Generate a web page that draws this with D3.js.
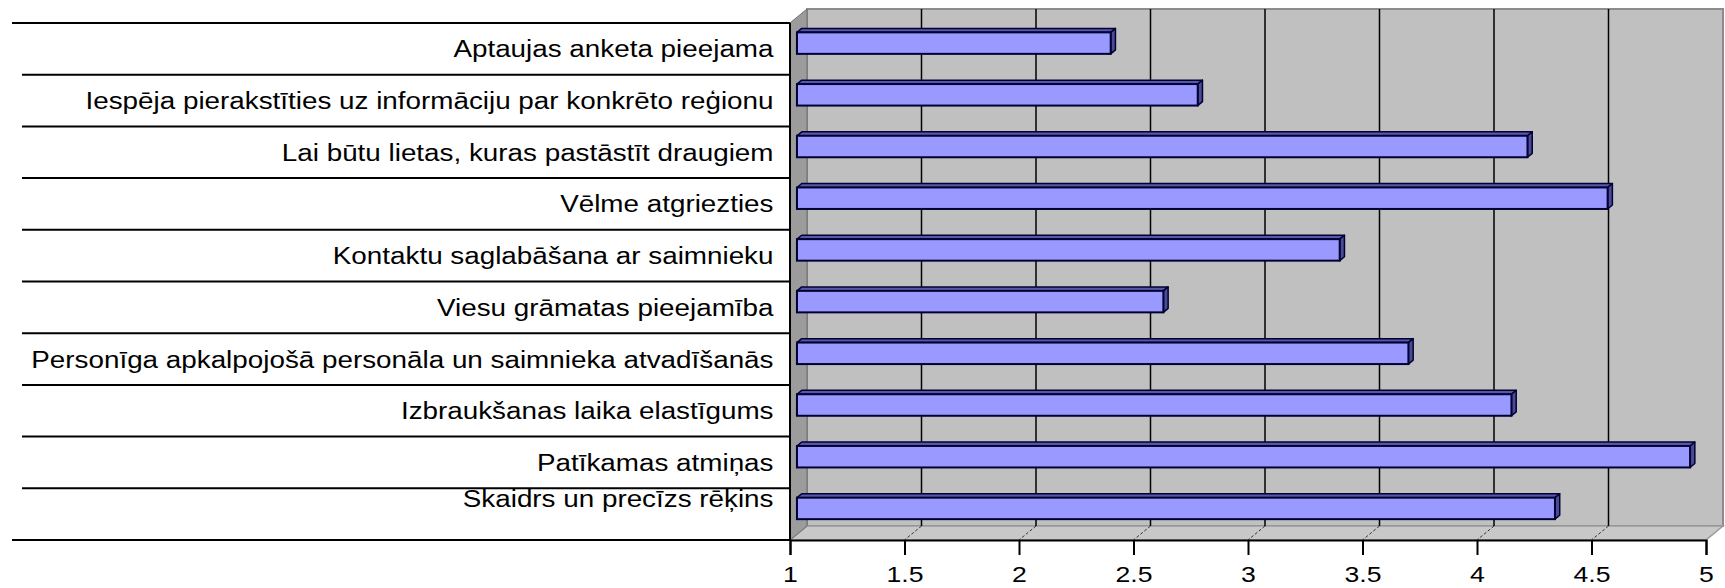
<!DOCTYPE html>
<html>
<head>
<meta charset="utf-8">
<script src="https://cdn.jsdelivr.net/npm/d3@7"></script>
<style>
  html, body { margin: 0; padding: 0; background: #ffffff; }
  svg { display: block; }
  text { font-family: "Liberation Sans", Arial, sans-serif; fill: #000; }
</style>
</head>
<body>
<svg id="chart" width="1725" height="588"></svg>
<script>
// ---- data ----
const categories = [
  "Aptaujas anketa pieejama",
  "Iespēja pierakstīties uz informāciju par konkrēto reģionu",
  "Lai būtu lietas, kuras pastāstīt draugiem",
  "Vēlme atgriezties",
  "Kontaktu saglabāšana ar saimnieku",
  "Viesu grāmatas pieejamība",
  "Personīga apkalpojošā personāla un saimnieka atvadīšanās",
  "Izbraukšanas laika elastīgums",
  "Patīkamas atmiņas",
  "Skaidrs un precīzs rēķins"
];
const values = [2.37, 2.75, 4.19, 4.54, 3.37, 2.60, 3.67, 4.12, 4.90, 4.31];
const tickValues = [1, 1.5, 2, 2.5, 3, 3.5, 4, 4.5, 5];
const tickLabels = ["1", "1.5", "2", "2.5", "3", "3.5", "4", "4.5", "5"];
const gridValues = [1.5, 2, 2.5, 3, 3.5, 4, 4.5];

// ---- layout ----
const svg = d3.select("#chart");
const frontLeft = 790, frontRight = 1706, frontTop = 23, frontBottom = 540;
const DX = 17, DY = -14;          // depth offset of the back wall
const barF0 = 0.41, barF1 = 0.69;  // depth range occupied by the bars
const labelRight = 773.5;
const stretch = 1.21;

const x = d3.scaleLinear().domain([1, 5]).range([frontLeft, frontRight]);
const y = d3.scaleBand().domain(categories).range([frontTop, frontBottom]).paddingInner(0).paddingOuter(0);
const bw = y.bandwidth();
const barH = bw * 0.416;

// back wall
svg.append("rect")
  .attr("x", frontLeft + DX).attr("y", frontTop + DY)
  .attr("width", frontRight - frontLeft).attr("height", frontBottom - frontTop)
  .attr("fill", "#c0c0c0").attr("stroke", "#8c8c8c").attr("stroke-width", 2);

// floor
svg.append("polygon")
  .attr("points", [
    [frontLeft, frontBottom], [frontLeft + DX, frontBottom + DY],
    [frontRight + DX, frontBottom + DY], [frontRight, frontBottom]
  ].map(p => p.join(",")).join(" "))
  .attr("fill", "#c8c8c8").attr("stroke", "#9a9a9a").attr("stroke-width", 1.5);

// left side wall
svg.append("polygon")
  .attr("points", [
    [frontLeft, frontTop], [frontLeft + DX, frontTop + DY],
    [frontLeft + DX, frontBottom + DY], [frontLeft, frontBottom]
  ].map(p => p.join(",")).join(" "))
  .attr("fill", "#9c9c9c").attr("stroke", "#6e6e6e").attr("stroke-width", 1);

// gridlines on back wall
svg.append("g").selectAll("line").data(gridValues).join("line")
  .attr("x1", d => x(d) + DX).attr("x2", d => x(d) + DX)
  .attr("y1", frontTop + DY).attr("y2", frontBottom + DY)
  .attr("stroke", "#000").attr("stroke-width", 1.5);

// gridlines on floor
svg.append("g").selectAll("line").data(gridValues).join("line")
  .attr("x1", d => x(d) + DX).attr("y1", frontBottom + DY)
  .attr("x2", d => x(d)).attr("y2", frontBottom)
  .attr("stroke", "#333").attr("stroke-width", 1).attr("stroke-dasharray", "3,2");

// bars (3D)
const bars = svg.append("g").selectAll("g").data(categories.map((c, i) => ({c, v: values[i]}))).join("g");
const ox = barF0 * DX, oy = barF0 * DY;
const bdx = (barF1 - barF0) * DX, bdy = (barF1 - barF0) * DY;
bars.each(function(d) {
  const g = d3.select(this);
  const x0 = x(1) + ox, x1 = x(d.v) + ox;
  const yTop = y(d.c) + bw / 2 - barH / 2 + oy;
  const yBot = yTop + barH;
  // top face
  g.append("polygon")
    .attr("points", [[x0, yTop], [x0 + bdx, yTop + bdy], [x1 + bdx, yTop + bdy], [x1, yTop]].map(p => p.join(",")).join(" "))
    .attr("fill", "#5858a8").attr("stroke", "#000033").attr("stroke-width", 1.5).attr("stroke-linejoin", "round");
  // end face
  g.append("polygon")
    .attr("points", [[x1, yTop], [x1 + bdx, yTop + bdy], [x1 + bdx, yBot + bdy], [x1, yBot]].map(p => p.join(",")).join(" "))
    .attr("fill", "#4a4a96").attr("stroke", "#000033").attr("stroke-width", 1.5).attr("stroke-linejoin", "round");
  // front face
  g.append("rect")
    .attr("x", x0).attr("y", yTop).attr("width", x1 - x0).attr("height", barH)
    .attr("fill", "#9999ff").attr("stroke", "#000033").attr("stroke-width", 2);
});

// category row lines
const bounds = d3.range(categories.length + 1).map(i => frontTop + i * bw);
svg.append("g").selectAll("line").data(bounds).join("line")
  .attr("x1", (d, i) => (i === 0 || i === categories.length) ? 12 : 22)
  .attr("x2", frontLeft)
  .attr("y1", d => d).attr("y2", d => d)
  .attr("stroke", "#000").attr("stroke-width", 2);

// category axis line
svg.append("line")
  .attr("x1", frontLeft).attr("x2", frontLeft)
  .attr("y1", frontTop).attr("y2", frontBottom)
  .attr("stroke", "#000").attr("stroke-width", 2);

// category labels
svg.append("g").selectAll("text").data(categories).join("text")
  .attr("transform", (d, i) => {
    const base = y(d) + bw / 2 + (i === categories.length - 1 ? -7 : 8.5);
    return `translate(${labelRight},${base}) scale(${stretch},1)`;
  })
  .attr("text-anchor", "end")
  .attr("font-size", 23)
  .text(d => d);

// value axis
const xAxis = d3.axisBottom(x).tickValues(tickValues).tickSize(15).tickPadding(0)
  .tickFormat((d, i) => tickLabels[i]);
const ax = svg.append("g").attr("transform", `translate(0,${frontBottom})`).call(xAxis);
ax.select(".domain").attr("stroke", "#000").attr("stroke-width", 2);
ax.selectAll(".tick line").attr("stroke", "#000").attr("stroke-width", 2);
ax.selectAll(".tick text")
  .attr("y", 42).attr("dy", 0)
  .attr("font-size", 22)
  .attr("font-family", "Liberation Sans, Arial, sans-serif")
  .attr("fill", "#000")
  .attr("transform", `scale(${stretch},1)`);
</script>
</body>
</html>
